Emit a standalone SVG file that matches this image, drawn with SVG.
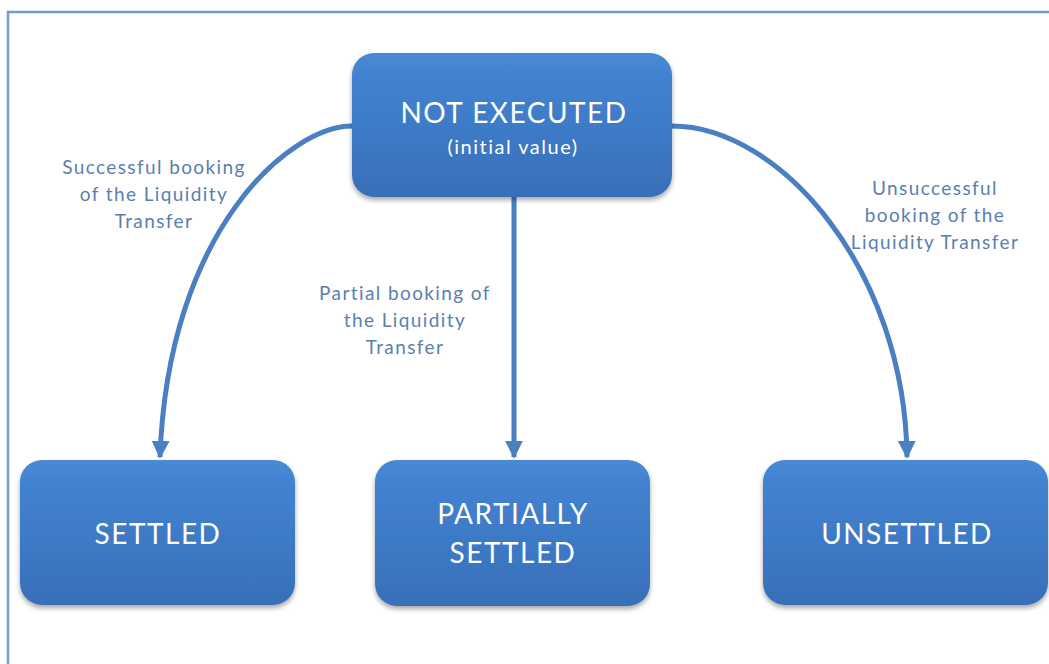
<svg xmlns="http://www.w3.org/2000/svg" width="1049" height="664" viewBox="0 0 1049 664">
<style>
.node{fill:url(#g);filter:url(#sh)}
.nt{font-family:Lato,"Open Sans","Liberation Sans",sans-serif;fill:#fff;text-anchor:middle;letter-spacing:1.5px}
.lbl{font-family:Lato,"Open Sans","Liberation Sans",sans-serif;fill:#5a7fae;font-size:19px;text-anchor:middle;letter-spacing:1.4px}
.con{fill:none;stroke:#4a7fc1;stroke-width:5}
</style>
<defs>
<linearGradient id="g" x1="0" y1="0" x2="0" y2="1">
<stop offset="0" stop-color="#4b89d4"/>
<stop offset="0.15" stop-color="#4283d1"/>
<stop offset="1" stop-color="#386fb8"/>
</linearGradient>
<filter id="sh" x="-10%" y="-10%" width="120%" height="130%">
<feDropShadow dx="0" dy="3" stdDeviation="2.5" flood-color="#000" flood-opacity="0.35"/>
</filter>
<marker id="ah" viewBox="0 0 10 10" refX="9" refY="5" markerWidth="3.6" markerHeight="3.6" orient="auto" markerUnits="strokeWidth">
<path d="M0,0 L10,5 L0,10 z" fill="#4a7fc1"/>
</marker>
</defs>
<rect x="8" y="12" width="1100" height="700" fill="#fff" stroke="#6f9cd5" stroke-width="2.5"/>
<g id="connectors">
<path class="con" marker-end="url(#ah)" d="M352,126 C290,126 168,230 160,457"/>
<path class="con" marker-end="url(#ah)" d="M514,197 L514,457"/>
<path class="con" marker-end="url(#ah)" d="M672,126 C780,126 905,270 907,457"/>
<text class="lbl" x="154" y="174">Successful booking</text>
<text class="lbl" x="154" y="201">of the Liquidity</text>
<text class="lbl" x="154" y="228">Transfer</text>
<text class="lbl" x="405" y="300">Partial booking of</text>
<text class="lbl" x="405" y="327">the Liquidity</text>
<text class="lbl" x="405" y="354">Transfer</text>
<text class="lbl" x="935" y="195">Unsuccessful</text>
<text class="lbl" x="935" y="222">booking of the</text>
<text class="lbl" x="935" y="249">Liquidity Transfer</text>
</g>
<g id="not-executed">
<rect class="node" x="352" y="53" width="320" height="144" rx="22"/>
<text class="nt" x="514" y="123" font-size="28">NOT EXECUTED</text>
<text class="nt" x="513" y="154" font-size="20">(initial value)</text>
</g>
<g id="settled">
<rect class="node" x="20" y="460" width="275" height="145" rx="22"/>
<text class="nt" x="158" y="544" font-size="28">SETTLED</text>
</g>
<g id="partially-settled">
<rect class="node" x="375" y="460" width="275" height="146" rx="22"/>
<text class="nt" x="513" y="524" font-size="28">PARTIALLY</text>
<text class="nt" x="513" y="563" font-size="28">SETTLED</text>
</g>
<g id="unsettled">
<rect class="node" x="763" y="460" width="285" height="145" rx="22"/>
<text class="nt" x="907" y="544" font-size="28">UNSETTLED</text>
</g>
</svg>
